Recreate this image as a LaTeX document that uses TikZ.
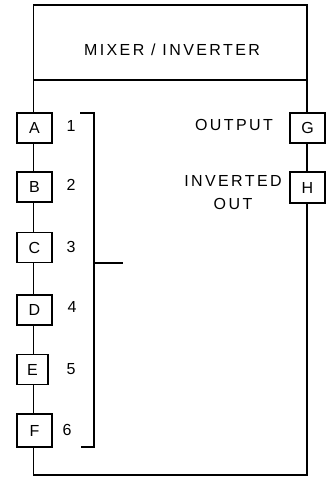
\documentclass[tikz,border=0pt]{standalone}
\usepackage{fontspec}
\setmainfont{Liberation Sans}[LetterSpace=15]
\newcommand{\labfont}{\fontsize{16}{22.5}\selectfont}
\tikzset{
  wire/.style={line width=1.6pt},
  pinbox/.style={draw, line width=1.6pt, fill=white, minimum width=35pt, minimum height=30pt, inner sep=0pt},
  txt/.style={inner sep=0pt, font=\labfont},
}
\begin{document}
\begin{tikzpicture}[x=1pt,y=-1pt]
\useasboundingbox (0,0) rectangle (328,477);
% body
\coordinate (tl) at (33.5,5);
\coordinate (br) at (307,475);
\coordinate (hl) at (33.5,80);
\coordinate (hr) at (307,80);
\draw[wire] (tl) rectangle (br);
\draw[wire] (hl) -- (hr);
\node[txt] (title) at (172,50) {MIXER / INVERTER};
% pins left
\node[pinbox, font=\labfont] (A) at (34.5,128) {A};
\node[pinbox, font=\labfont] (B) at (34.5,187) {B};
\node[pinbox, font=\labfont] (C) at (34.5,247.5) {C};
\node[pinbox, font=\labfont] (D) at (34.5,310) {D};
\node[pinbox, font=\labfont, minimum width=31pt] (E) at (32.5,369.5) {E};
\node[pinbox, font=\labfont, minimum height=33pt] (F) at (34.5,430.5) {F};
% pins right
\node[pinbox, font=\labfont] (G) at (307.5,128) {G};
\node[pinbox, font=\labfont, minimum height=31pt] (H) at (307.5,187.5) {H};
% numbers
\node[txt] (n1) at (71,126) {1};
\node[txt] (n2) at (71,185) {2};
\node[txt] (n3) at (71,247) {3};
\node[txt] (n4) at (72,307) {4};
\node[txt] (n5) at (71,369) {5};
\node[txt] (n6) at (67,430) {6};
% right labels
\node[txt] (outl) at (234,125) {OUTPUT};
\node[txt, align=center] (invl) at (233,192.5) {INVERTED\\OUT};
% bracket
\coordinate (b1) at (80,113);
\coordinate (b2) at (94,113);
\coordinate (b3) at (94,447);
\coordinate (b4) at (81,447);
\coordinate (t1) at (94,263);
\coordinate (t2) at (123,263);
\draw[wire] (b1) -- (b2) -- (b3) -- (b4);
\draw[wire] (t1) -- (t2);
\end{tikzpicture}
\end{document}
